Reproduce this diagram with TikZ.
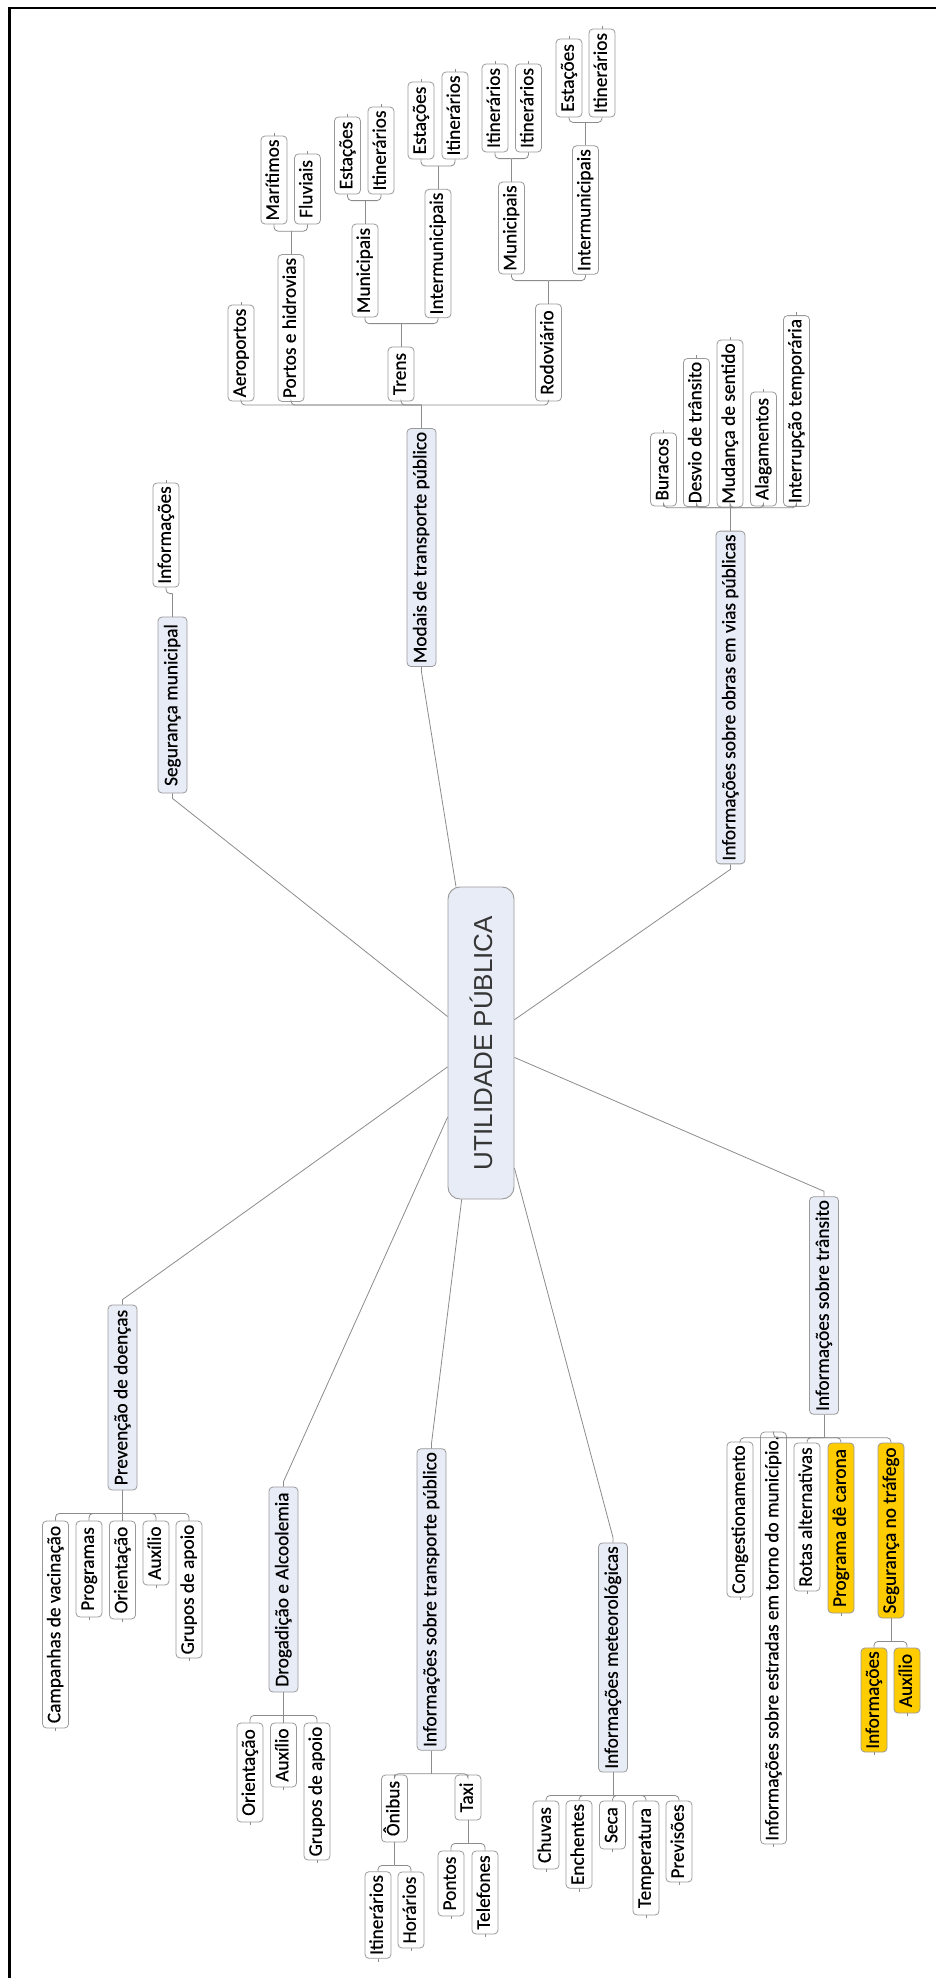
\documentclass[tikz,border=0pt]{standalone}
\usepackage{fontspec}
\setmainfont{Carlito}
\newfontfamily\mmfont[FakeBold=0.45]{Carlito}
\newfontfamily\hubfont{Liberation Sans}
\definecolor{topicfill}{HTML}{E8ECF6}
\definecolor{edgegray}{HTML}{8C8C8C}
\definecolor{boxgray}{HTML}{9A9A9A}
\definecolor{hilite}{HTML}{FFCC00}
\definecolor{hubtext}{HTML}{353535}

% bracket joining a parent to children placed above it
\newcommand\branchup[2]{%
  \coordinate (#1-j) at ([yshift=17.25pt]#1.east);
  \draw[link] (#1.east) -- (#1-j);
  \foreach \c in {#2}{\draw[link,rounded corners=3pt] (#1-j) -| (\c.west);}}
% bracket joining a parent to children placed below it
\newcommand\branchdown[2]{%
  \coordinate (#1-j) at ([yshift=-17.25pt]#1.west);
  \draw[link] (#1.west) -- (#1-j);
  \foreach \c in {#2}{\draw[link,rounded corners=3pt] (#1-j) -| (\c.east);}}

\begin{document}
\begin{tikzpicture}[x=0.75pt,y=-0.75pt,
  every node/.style={inner sep=0pt},
  box/.style={rotate=90, draw=boxgray, line width=0.6pt, rounded corners=3pt,
    font=\mmfont\fontsize{14.5}{17}\selectfont, text height=10pt, text depth=2.8pt,
    inner xsep=2.5pt},
  len/.style={minimum width={#1*0.75pt}},
  leaf/.style={box, fill=white, minimum height=19.5pt},
  topic/.style={box, fill=topicfill, minimum height=21.75pt},
  hot/.style={leaf, fill=hilite},
  hub/.style={rotate=90, draw=boxgray, line width=0.7pt, fill=topicfill,
    rounded corners=9pt, minimum width=234pt, minimum height=49.5pt,
    font=\hubfont\fontsize{19.5}{22}\selectfont, text=hubtext},
  link/.style={draw=edgegray, line width=0.6pt}]

\useasboundingbox (0,0) rectangle (936,1978);
\fill[white] (0,0) rectangle (936,1978);

% frame
\draw[line width=1.7pt] (9.5,1978) -- (9.5,7.8) -- (936,7.8);

% central idea
\node[hub] (hub) at (481,1043) {UTILIDADE PÚBLICA};

% ---- Modais de transporte público
\node[topic,len=233] (mods) at (421.5,547.5) {Modais de transporte público};
\node[leaf,len=96]  (aer)   at (241,353)   {Aeroportos};
\node[leaf,len=146] (port)  at (291,328)   {Portos e hidrovias};
\node[leaf,len=88]  (mar)   at (274,180)   {Marítimos};
\node[leaf,len=70]  (flu)   at (307.5,189) {Fluviais};
\node[leaf,len=54]  (trens) at (401,374)   {Trens};
\node[leaf,len=93]  (tmun)  at (365,270.5) {Municipais};
\node[leaf,len=77]  (tmun-e) at (347.5,155.5) {Estações};
\node[leaf,len=87]  (tmun-i) at (381,150.5) {Itinerários};
\node[leaf,len=127] (tint)  at (438,253.5) {Intermunicipais};
\node[leaf,len=77]  (tint-e) at (421,120.5) {Estações};
\node[leaf,len=87]  (tint-i) at (455,115.5) {Itinerários};
\node[leaf,len=97]  (rodo)  at (548.5,352.5) {Rodoviário};
\node[leaf,len=92]  (rmun)  at (511.5,228) {Municipais};
\node[leaf,len=88]  (rmun-i1) at (495,108) {Itinerários};
\node[leaf,len=88]  (rmun-i2) at (528.5,108) {Itinerários};
\node[leaf,len=128] (rint)  at (585.5,210) {Intermunicipais};
\node[leaf,len=78]  (rint-e) at (569,78)   {Estações};
\node[leaf,len=88]  (rint-i) at (602,73)   {Itinerários};

\branchup{mods}{aer,port,trens,rodo}
\branchup{port}{mar,flu}
\branchup{trens}{tmun,tint}
\branchup{tmun}{tmun-e,tmun-i}
\branchup{tint}{tint-e,tint-i}
\branchup{rodo}{rmun,rint}
\branchup{rmun}{rmun-i1,rmun-i2}
\branchup{rint}{rint-e,rint-i}

% ---- Segurança municipal
\node[topic,len=176] (seg)   at (172.5,705) {Segurança municipal};
\node[leaf,len=104]  (seg-i) at (166,535)   {Informações};
\branchup{seg}{seg-i}

% ---- Informações sobre obras em vias públicas
\node[topic,len=321] (obras) at (730.5,697.5) {Informações sobre obras em vias públicas};
\node[leaf,len=73]  (bur)  at (663.5,469.5) {Buracos};
\node[leaf,len=147] (desv) at (696.5,432.5) {Desvio de trânsito};
\node[leaf,len=165] (mud)  at (730,423.5)   {Mudança de sentido};
\node[leaf,len=114] (alag) at (763.5,449)   {Alagamentos};
\node[leaf,len=190] (intr) at (796.5,411)   {Interrupção temporária};
\branchup{obras}{bur,desv,mud,alag,intr}

% ---- Prevenção de doenças
\node[topic,len=185] (prev)   at (122.5,1397.5) {Prevenção de doenças};
\node[leaf,len=207]  (prev-c) at (55.5,1624.5)  {Campanhas de vacinação};
\node[leaf,len=96]   (prev-p) at (89,1569)      {Programas};
\node[leaf,len=98]   (prev-o) at (122.5,1570)   {Orientação};
\node[leaf,len=64]   (prev-a) at (156,1553)     {Auxílio};
\node[leaf,len=137]  (prev-g) at (189,1589.5)   {Grupos de apoio};
\branchdown{prev}{prev-c,prev-p,prev-o,prev-a,prev-g}

% ---- Drogadição e Alcoolemia
\node[topic,len=205] (drog)   at (283.5,1589.5) {Drogadição e Alcoolemia};
\node[leaf,len=99]   (drog-o) at (250,1772.5)   {Orientação};
\node[leaf,len=64]   (drog-a) at (283.5,1755)   {Auxílio};
\node[leaf,len=137]  (drog-g) at (317,1791.5)   {Grupos de apoio};
\branchdown{drog}{drog-o,drog-a,drog-g}

% ---- Informações sobre transporte público
\node[topic,len=291] (transp) at (431.5,1599.5) {Informações sobre transporte público};
\node[leaf,len=67]  (onib)   at (394.5,1808.5) {Ônibus};
\node[leaf,len=86]  (onib-i) at (378,1915)     {Itinerários};
\node[leaf,len=76]  (onib-h) at (411,1910)     {Horários};
\node[leaf,len=45]  (taxi)   at (468,1797.5)   {Taxi};
\node[leaf,len=65]  (taxi-p) at (451,1883.5)   {Pontos};
\node[leaf,len=83]  (taxi-t) at (485,1892.5)   {Telefones};
\branchdown{transp}{onib,taxi}
\branchdown{onib}{onib-i,onib-h}
\branchdown{taxi}{taxi-p,taxi-t}

% ---- Informações meteorológicas
\node[topic,len=223] (meteo) at (613,1657.5) {Informações meteorológicas};
\node[leaf,len=68]  (chuv)  at (546,1835)    {Chuvas};
\node[leaf,len=87]  (ench)  at (579,1844.5)  {Enchentes};
\node[leaf,len=48]  (seca)  at (612.5,1825)  {Seca};
\node[leaf,len=114] (temp)  at (646,1858)    {Temperatura};
\node[leaf,len=81]  (prevs) at (679,1841.5)  {Previsões};
\branchdown{meteo}{chuv,ench,seca,temp,prevs}

% ---- Informações sobre trânsito
\node[topic,len=213] (trans)  at (824,1305.5) {Informações sobre trânsito};
\node[leaf,len=153]  (cong)   at (740,1519.5) {Congestionamento};
\node[leaf,len=390]  (estr)   at (773.5,1638) {Informações sobre estradas em torno do município.};
\node[leaf,len=148]  (rotas)  at (807,1517)   {Rotas alternativas};
\node[hot,len=170]   (car)    at (841,1528)   {Programa dê carona};
\node[hot,len=175]   (segt)   at (891,1530.5) {Segurança no tráfego};
\node[hot,len=104]   (segt-i) at (874,1700)   {Informações};
\node[hot,len=65]    (segt-a) at (907,1680.5) {Auxílio};
\branchdown{trans}{cong,estr,rotas,car,segt}
\branchdown{segt}{segt-i,segt-a}

% ---- main branches out of the central idea
\foreach \t in {mods,seg,obras}{
  \draw[link] (hub) -- ([yshift=-3.75pt]\t.west) -- (\t.west);}
\foreach \t in {prev,drog,transp,meteo,trans}{
  \draw[link] (hub) -- ([yshift=3.75pt]\t.east) -- (\t.east);}

% small end marks on the free ends of the leaves
\foreach \n in {aer,mar,flu,tmun-e,tmun-i,tint-e,tint-i,rmun-i1,rmun-i2,
                rint-e,rint-i,seg-i,bur,desv,mud,alag,intr}{
  \draw[link] (\n.east) -- ++(0,-3);}
\foreach \n in {prev-c,prev-p,prev-o,prev-a,prev-g,drog-o,drog-a,drog-g,
                onib-i,onib-h,taxi-p,taxi-t,chuv,ench,seca,temp,prevs,
                cong,estr,rotas,car,segt-i,segt-a}{
  \draw[link] (\n.west) -- ++(0,3);}

\end{tikzpicture}
\end{document}
